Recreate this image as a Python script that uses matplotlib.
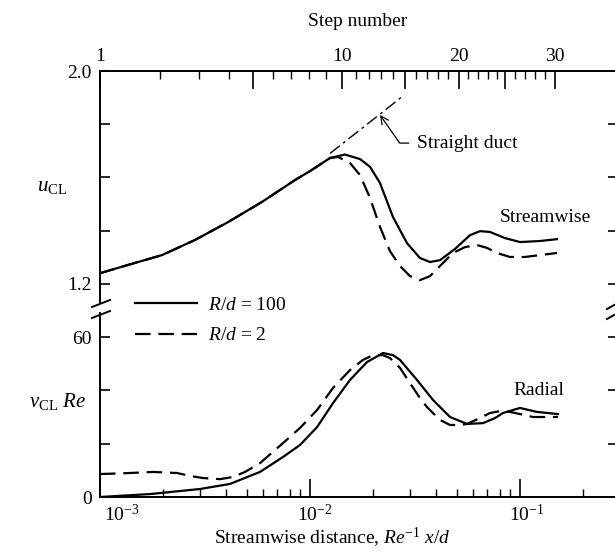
import matplotlib
matplotlib.use('Agg')
import matplotlib.pyplot as plt
from matplotlib.lines import Line2D
from matplotlib.ticker import NullFormatter, FixedFormatter

plt.rcParams['font.family'] = ['Liberation Serif', 'DejaVu Serif']
plt.rcParams['mathtext.fontset'] = 'custom'
plt.rcParams['mathtext.rm'] = 'Liberation Serif'
plt.rcParams['mathtext.it'] = 'Liberation Serif:italic'
plt.rcParams['mathtext.bf'] = 'Liberation Serif:bold'
plt.rcParams['font.size'] = 14

# ---------------- data ----------------
# centreline streamwise velocity u_CL
x_u_solid = [0.001, 0.001359, 0.001973, 0.002835, 0.00407, 0.00591, 0.00848, 0.0102,
             0.01245, 0.01468, 0.0173, 0.01931, 0.02154, 0.02485, 0.02897, 0.0334,
             0.03728, 0.04159, 0.04903, 0.0578, 0.06452, 0.07197, 0.08483, 0.1,
             0.1245, 0.15]
u_solid = [1.24, 1.271, 1.308, 1.365, 1.432, 1.508, 1.590, 1.628,
           1.673, 1.686, 1.669, 1.640, 1.579, 1.451, 1.353, 1.297,
           1.282, 1.289, 1.331, 1.383, 1.398, 1.395, 1.372, 1.357,
           1.361, 1.368]

x_u_dashed = [0.001, 0.001359, 0.001973, 0.002835, 0.00407, 0.00591, 0.00848, 0.0102,
              0.01245, 0.0136, 0.01551, 0.0173, 0.01931, 0.02154, 0.02404, 0.02683,
              0.02994, 0.0334, 0.03728, 0.04159, 0.04797, 0.05471, 0.06238, 0.06966,
              0.07768, 0.08964, 0.1056, 0.1245, 0.15]
u_dashed = [1.24, 1.271, 1.308, 1.365, 1.432, 1.508, 1.590, 1.628,
            1.673, 1.677, 1.654, 1.609, 1.523, 1.414, 1.323, 1.267,
            1.229, 1.214, 1.229, 1.267, 1.316, 1.338, 1.346, 1.335,
            1.316, 1.301, 1.301, 1.308, 1.316]

x_duct = [0.01245, 0.02742]
u_duct = [1.69, 1.903]

# centreline radial velocity v_CL Re
x_v_solid = [0.001, 0.00173, 0.002994, 0.004159, 0.00578, 0.007435, 0.008963, 0.0108,
             0.01287, 0.01551, 0.01868, 0.02227, 0.02485, 0.02683, 0.03232, 0.03852,
             0.04642, 0.05594, 0.06665, 0.07603, 0.08299, 0.1, 0.1205, 0.1517]
v_solid = [0.0, 1.1, 3.0, 4.9, 9.4, 15.0, 19.5, 26.2,
           35.2, 43.9, 50.6, 54.0, 53.2, 51.4, 43.9, 36.4,
           30.0, 27.4, 27.7, 29.6, 31.5, 33.4, 31.9, 31.1]

x_v_dashed = [0.001, 0.00139, 0.001788, 0.002326, 0.002683, 0.003094, 0.003728, 0.0043,
              0.004903, 0.00578, 0.007435, 0.008963, 0.0108, 0.01287, 0.01551, 0.01788,
              0.01995, 0.02227, 0.02404, 0.02683, 0.02994, 0.0334, 0.03607, 0.04159,
              0.04642, 0.05179, 0.05594, 0.06452, 0.07197, 0.08031, 0.08964, 0.1,
              0.1153, 0.1517]
v_dashed = [8.6, 9.0, 9.4, 9.0, 7.9, 7.1, 6.7, 7.5,
            9.4, 12.7, 20.2, 25.9, 32.6, 40.9, 47.6, 51.4,
            53.2, 53.2, 52.1, 48.4, 42.7, 37.1, 33.7, 28.9,
            27.0, 27.0, 27.4, 29.6, 31.5, 32.2, 31.9, 31.1,
            30.0, 30.0]

# step-number scale (top axis)
step_numbers = list(range(1, 31))
step_x = [0.001, 0.001931, 0.002961, 0.004115, 0.005354, 0.006665, 0.008121, 0.009891,
          0.01192, 0.0142, 0.01656, 0.0191, 0.02178, 0.02485, 0.02835, 0.03197,
          0.03607, 0.0407, 0.04541, 0.05123, 0.05655, 0.0631, 0.07041, 0.07771,
          0.08483, 0.09467, 0.1056, 0.1179, 0.1315, 0.1468]
step_major = [1, 5, 10, 15, 20, 25, 30]
step_labels = {1: '1', 10: '10', 20: '20', 30: '30'}

u_ticks = [1.2, 1.4, 1.6, 1.8, 2.0]
u_ticklabels = ['1.2', '', '', '', '2.0']
v_ticks = [0, 20, 40, 60]
v_ticklabels = ['0', '', '', '60']
x_major = [1e-3, 1e-2, 1e-1]
x_major_labels = [r'$10^{-3}$', r'$10^{-2}$', r'$10^{-1}$']

# ---------------- figure ----------------
W, H = 615, 555
fig = plt.figure(figsize=(W / 100, H / 100), dpi=100)

def fx(px):
    return px / W

def fy(py):
    return 1 - py / H

left, right = 100, 618
ax1 = fig.add_axes([fx(left), fy(303), fx(right) - fx(left), fy(71) - fy(303)])
ax2 = fig.add_axes([fx(left), fy(497), fx(right) - fx(left), fy(313) - fy(497)])

xlim = (1e-3, 0.2929)
lw = 1.6
dash = (0, (7, 3.5))

for ax in (ax1, ax2):
    ax.set_xscale('log')
    ax.set_xlim(*xlim)
    ax.patch.set_alpha(0)
    for s in ax.spines.values():
        s.set_linewidth(1.4)
    ax.spines['right'].set_visible(False)

# top panel
l_solid, = ax1.plot(x_u_solid, u_solid, color='black', lw=lw, solid_joinstyle='round')
l_dash, = ax1.plot(x_u_dashed, u_dashed, color='black', lw=lw, linestyle=dash)
ax1.plot(x_duct, u_duct, color='black', lw=1.0, linestyle=(0, (9, 3, 2, 3)))
ax1.set_ylim(1.128, 2.0)
ax1.spines['bottom'].set_visible(False)
ax1.set_yticks(u_ticks)
ax1.set_yticklabels(u_ticklabels)
ax1.tick_params(axis='y', which='both', direction='in', length=7, width=1.2,
                left=True, right=True, pad=6, labelsize=14)
ax1.xaxis.set_ticks_position('top')
ax1.set_xticks([step_x[n - 1] for n in step_major])
ax1.xaxis.set_major_formatter(FixedFormatter([step_labels.get(n, '') for n in step_major]))
ax1.set_xticks([step_x[n - 1] for n in step_numbers if n not in step_major], minor=True)
ax1.xaxis.set_minor_formatter(NullFormatter())
ax1.tick_params(axis='x', which='major', direction='in', length=13, width=1.2, pad=4,
                labelsize=14, top=True, bottom=False)
ax1.tick_params(axis='x', which='minor', direction='in', length=6, width=1.0,
                top=True, bottom=False)

ax1.annotate('Straight duct', xy=(0.02154, 1.835), xytext=(0.03237, 1.729),
             ha='left', va='center', fontsize=14,
             arrowprops=dict(arrowstyle='->', color='black', lw=0.9,
                             connectionstyle='angle,angleA=0,angleB=125,rad=0',
                             relpos=(0, 0.5), shrinkA=4, shrinkB=0))
ax1.text(0.1315, 1.451, 'Streamwise', ha='center', va='center', fontsize=14)

# bottom panel
ax2.plot(x_v_solid, v_solid, color='black', lw=lw, solid_joinstyle='round')
ax2.plot(x_v_dashed, v_dashed, color='black', lw=lw, linestyle=dash)
ax2.set_ylim(0, 69)
ax2.spines['top'].set_visible(False)
ax2.set_yticks(v_ticks)
ax2.set_yticklabels(v_ticklabels)
ax2.tick_params(axis='y', which='both', direction='in', length=7, width=1.2,
                left=True, right=True, pad=6, labelsize=14)
ax2.set_xticks(x_major)
ax2.xaxis.set_major_formatter(NullFormatter())
ax2.xaxis.set_minor_formatter(NullFormatter())
ax2.tick_params(axis='x', which='major', direction='in', length=13, width=1.2,
                top=False, bottom=True)
ax2.tick_params(axis='x', which='minor', direction='in', length=6, width=1.0,
                top=False, bottom=True)
offsets = [3, -9, -8]
for xv, lab, dx in zip(x_major, x_major_labels, offsets):
    ax2.annotate(lab, xy=(xv, 0), xycoords=('data', 'axes fraction'),
                 xytext=(dx, -5), textcoords='offset points',
                 ha='left', va='top', fontsize=14)
ax2.text(0.1232, 40, 'Radial', ha='center', va='center', fontsize=14)

# axis titles
fig.text(fx(358), fy(22), 'Step number', ha='center', va='center', fontsize=14)
fig.text(fx(332), fy(538), r'Streamwise distance, $Re^{-1}\ x/d$',
         ha='center', va='center', fontsize=14)
fig.text(fx(52), fy(186), r'$u_{\rm CL}$', ha='center', va='center', fontsize=15)
fig.text(fx(58), fy(402), r'$v_{\rm CL}\ Re$', ha='center', va='center', fontsize=15)

# legend
fig.legend(handles=[l_solid, l_dash], labels=[r'$R/d$ = 100', r'$R/d$ = 2'],
           loc='upper left', bbox_to_anchor=(fx(135), fy(296)), frameon=False,
           handlelength=3.2, handletextpad=0.55, labelspacing=0.68,
           borderpad=0, borderaxespad=0, fontsize=14)

# axis-break marks
for (x0, y0, x1, y1) in [(92, 307, 110, 300), (92, 318, 110, 311),
                         (607, 309, 616, 304), (607, 319, 616, 314)]:
    fig.add_artist(Line2D([fx(x0), fx(x1)], [fy(y0), fy(y1)], color='black', lw=1.4,
                          transform=fig.transFigure))

fig.savefig('out.png', dpi=100)
